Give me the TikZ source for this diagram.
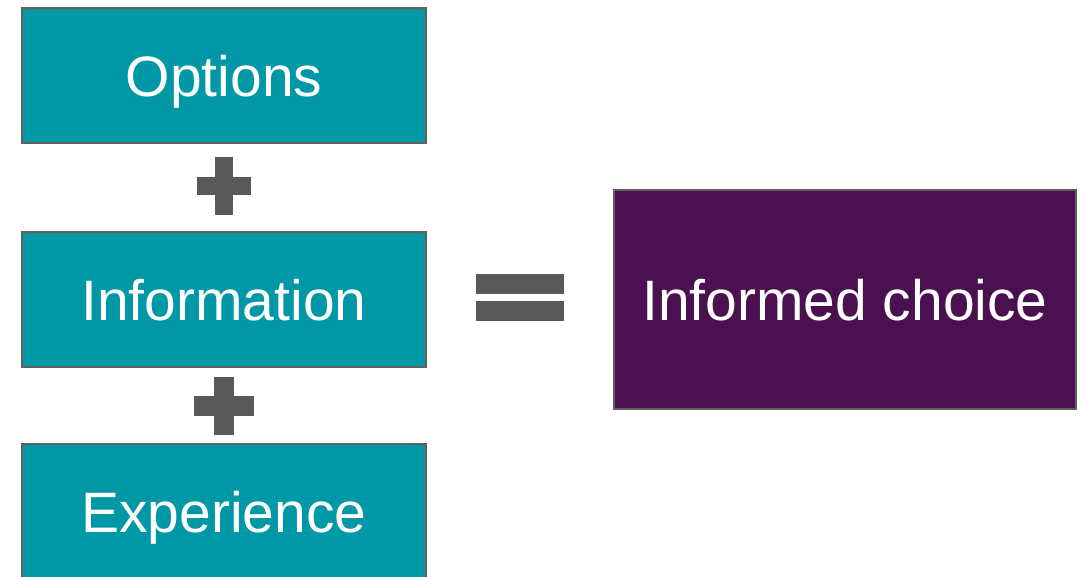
\documentclass[tikz,border=0pt]{standalone}
\usepackage{fontspec}
\setmainfont{Liberation Sans}
\definecolor{tealbox}{RGB}{0,152,167}
\definecolor{plumbox}{RGB}{74,16,80}
\definecolor{edgegray}{RGB}{96,96,96}
\definecolor{signgray}{RGB}{89,89,89}
\begin{document}
\begin{tikzpicture}
      [
      x=1pt, y=-1pt,
      term/.style={rectangle,draw=edgegray,line width=1.5pt,fill=tealbox,text=white,inner sep=0pt,text height=42pt,text depth=0pt,minimum width=404pt,minimum height=135pt,font=\fontsize{57}{68}\selectfont},
      result/.style={term,fill=plumbox,minimum width=462pt,minimum height=219pt},
      sign/.style={fill=signgray}
      ]
      \useasboundingbox (0,0) rectangle (1086,577);
      \clip (0,0) rectangle (1086,577);
      \node (options) at (224,75.5) [term] {Options};
      \node (info) at (224,299.5) [term] {Information};
      \node (exp) at (224,511.5) [term] {Experience};
      \node (choice) at (845,299.5) [result] {Informed choice};
      % plus signs between the boxes
      \fill [sign] (215,157) rectangle (233,215);
      \fill [sign] (197,177) rectangle (251,195);
      \fill [sign] (214,377) rectangle (234,435);
      \fill [sign] (194,396) rectangle (254,416);
      % equals sign
      \fill [sign] (476,274) rectangle (564,294);
      \fill [sign] (476,301) rectangle (564,321);
    \end{tikzpicture}
\end{document}
